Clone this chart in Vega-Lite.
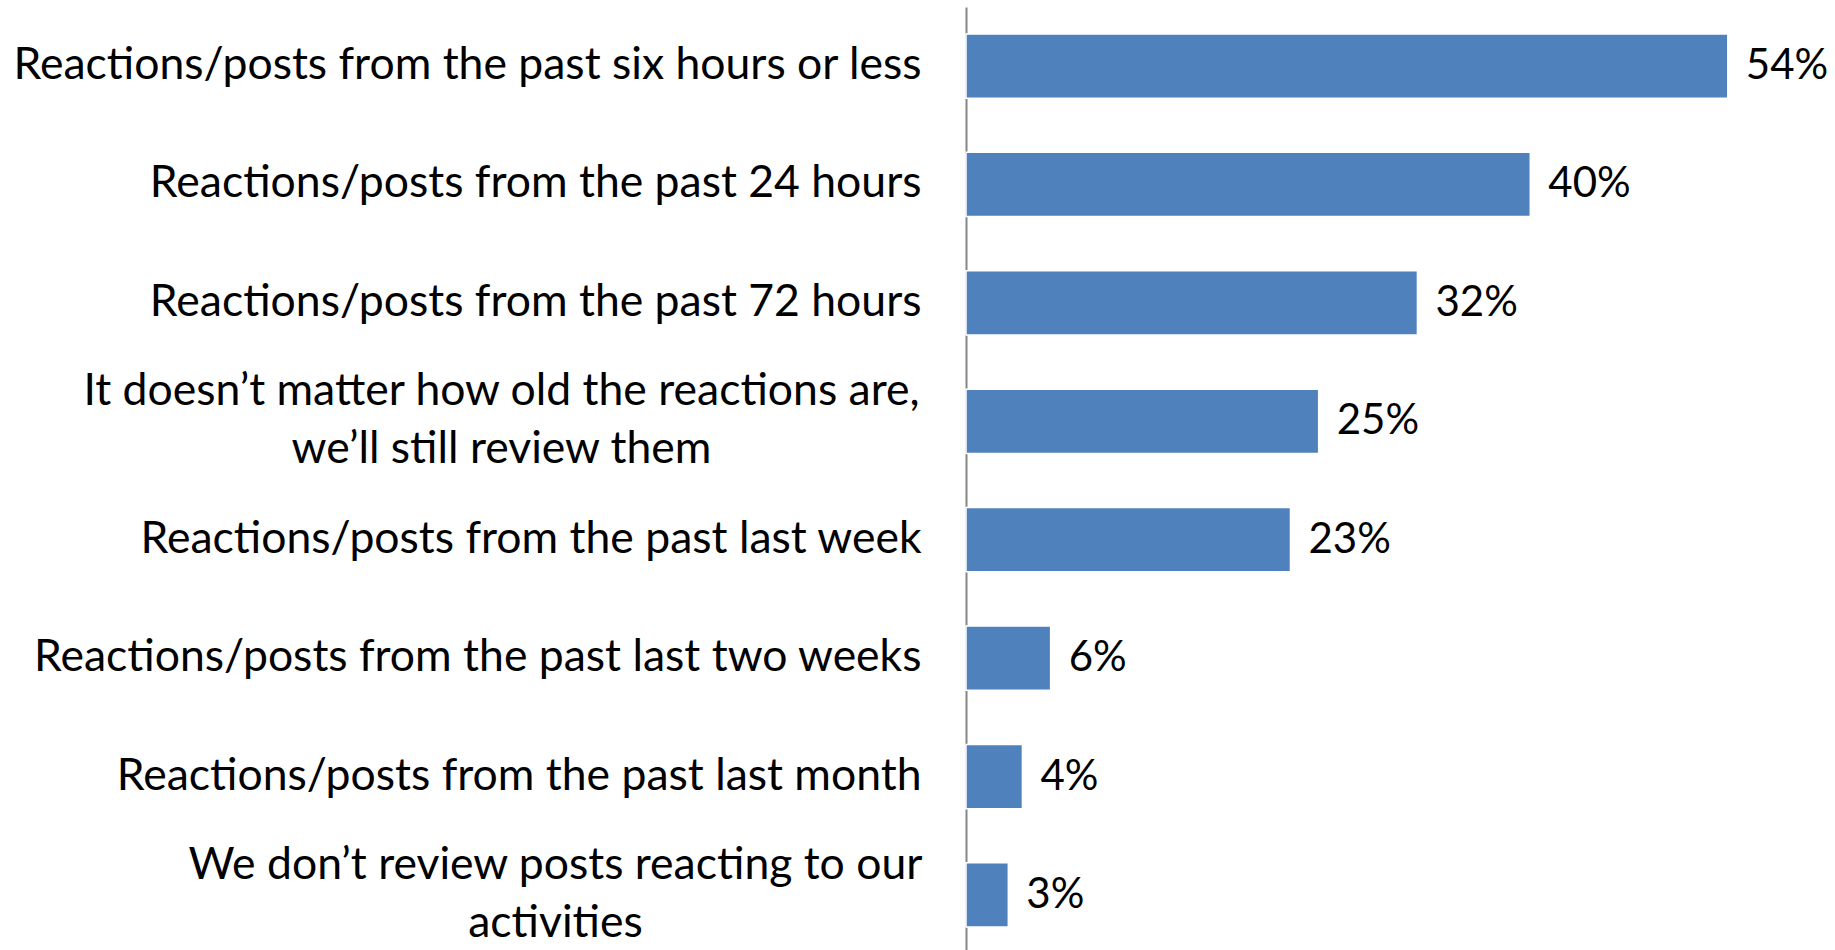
{
  "$schema": "https://vega.github.io/schema/vega-lite/v6.json",
  "width": 869,
  "height": 947,
  "autosize": {"type": "none"},
  "padding": {"left": 966, "top": 7, "right": 0, "bottom": 0},
  "background": "white",
  "config": {"view": {"stroke": null}, "font": "Lato"},
  "data": {
    "values": [
      {"label": "Reactions/posts from the past six hours or less", "value": 0.54},
      {"label": "Reactions/posts from the past 24 hours", "value": 0.40},
      {"label": "Reactions/posts from the past 72 hours", "value": 0.32},
      {"label": "It doesn’t matter how old the reactions are,|we’ll still review them", "value": 0.25},
      {"label": "Reactions/posts from the past last week", "value": 0.23},
      {"label": "Reactions/posts from the past last two weeks", "value": 0.06},
      {"label": "Reactions/posts from the past last month", "value": 0.04},
      {"label": "We don’t review posts reacting to our|activities", "value": 0.03}
    ]
  },
  "encoding": {
    "y": {
      "field": "label",
      "type": "nominal",
      "sort": null,
      "scale": {"paddingInner": 0.457, "paddingOuter": 0.227},
      "axis": {
        "title": null,
        "ticks": false,
        "domainColor": "#868686",
        "domainWidth": 2,
        "labelFont": "Lato",
        "labelFontSize": 44.5,
        "labelColor": "black",
        "labelLimit": 1000,
        "labelLineHeight": 58,
        "labelExpr": "split(datum.label, '|')",
        "labelAlign": {"condition": {"test": "indexof(datum.value, '|') >= 0", "value": "center"}, "value": "right"},
        "labelOffset": {"condition": {"test": "indexof(datum.value, '|') >= 0", "value": -29}, "value": 0},
        "labelPadding": {
          "condition": [
            {"test": "indexof(datum.value, 'It doesn') == 0", "value": 465},
            {"test": "indexof(datum.value, 'We don') == 0", "value": 411}
          ],
          "value": 45
        }
      }
    },
    "x": {
      "field": "value",
      "type": "quantitative",
      "scale": {"domain": [0, 0.616]},
      "axis": null
    }
  },
  "layer": [
    {"mark": {"type": "bar", "color": "#4F81BD", "stroke": "white", "strokeWidth": 1.5}},
    {
      "mark": {"type": "text", "align": "left", "baseline": "middle", "dx": 18, "font": "Lato", "fontSize": 42, "color": "black"},
      "encoding": {"text": {"field": "value", "type": "quantitative", "format": ".0%"}}
    }
  ]
}
